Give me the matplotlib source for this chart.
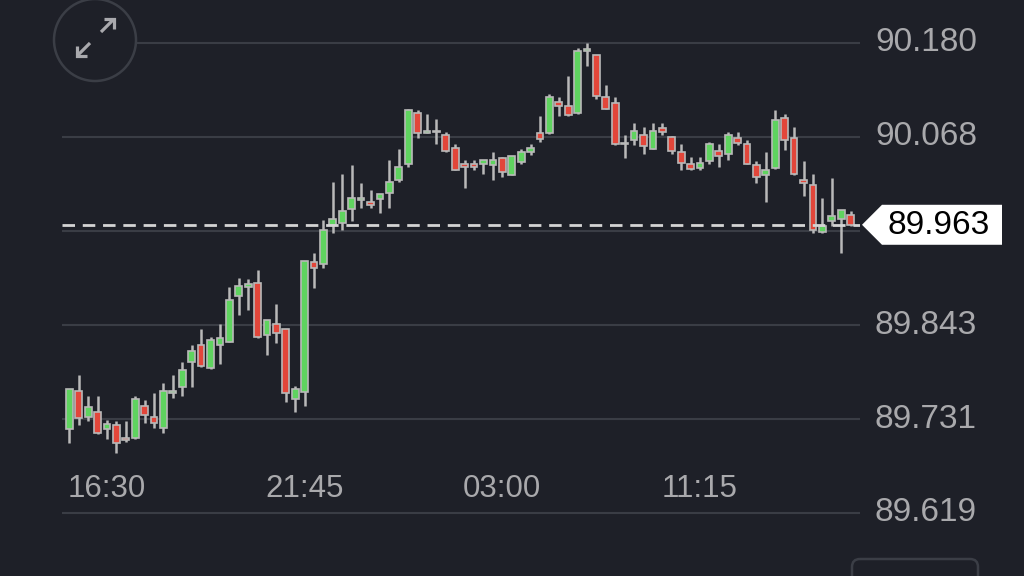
import numpy as np
import matplotlib
matplotlib.use("Agg")
import matplotlib.pyplot as plt
from matplotlib.patches import Polygon, Circle, FancyBboxPatch

# --- data (15 min candles) ---
opens = [89.719, 89.765, 89.733, 89.739, 89.719, 89.724, 89.709, 89.708, 89.747, 89.734,
         89.721, 89.762, 89.769, 89.799, 89.820, 89.792, 89.819, 89.823, 89.878, 89.889,
         89.894, 89.831, 89.845, 89.839, 89.755, 89.764, 89.918, 89.916, 89.963, 89.965,
         89.982, 89.992, 89.990, 89.994, 90.001, 90.016, 90.036, 90.097, 90.073, 90.074,
         90.070, 90.055, 90.036, 90.036, 90.036, 90.034, 90.043, 90.022, 90.038, 90.050,
         90.072, 90.072, 90.110, 90.105, 90.096, 90.171, 90.166, 90.115, 90.108, 90.059,
         90.064, 90.070, 90.054, 90.079, 90.068, 90.050, 90.035, 90.031, 90.039, 90.051,
         90.047, 90.067, 90.060, 90.034, 90.022, 90.031, 90.090, 90.067, 90.017, 90.011,
         89.954, 89.967, 89.970, 89.975]
highs = [89.767, 89.784, 89.759, 89.759, 89.730, 89.729, 89.729, 89.759, 89.754, 89.762,
         89.774, 89.784, 89.799, 89.820, 89.839, 89.829, 89.844, 89.889, 89.899, 89.898,
         89.909, 89.849, 89.869, 89.839, 89.770, 89.920, 89.929, 89.969, 90.014, 90.024,
         90.034, 90.013, 90.004, 90.000, 90.040, 90.054, 90.101, 90.100, 90.095, 90.089,
         90.074, 90.060, 90.040, 90.040, 90.040, 90.050, 90.044, 90.045, 90.054, 90.059,
         90.093, 90.119, 90.115, 90.140, 90.174, 90.180, 90.166, 90.130, 90.115, 90.070,
         90.084, 90.080, 90.084, 90.084, 90.069, 90.059, 90.044, 90.044, 90.062, 90.060,
         90.074, 90.074, 90.064, 90.039, 90.050, 90.100, 90.095, 90.080, 90.039, 90.024,
         89.995, 90.019, 89.981, 89.980]
lows = [89.703, 89.724, 89.729, 89.713, 89.707, 89.691, 89.704, 89.707, 89.726, 89.721,
        89.714, 89.756, 89.759, 89.769, 89.793, 89.791, 89.797, 89.823, 89.855, 89.861,
        89.828, 89.808, 89.822, 89.751, 89.740, 89.747, 89.888, 89.911, 89.953, 89.957,
        89.968, 89.983, 89.983, 89.977, 89.983, 90.014, 90.032, 90.067, 90.072, 90.060,
        90.050, 90.028, 90.007, 90.028, 90.024, 90.016, 90.020, 90.022, 90.036, 90.046,
        90.062, 90.071, 90.093, 90.093, 90.095, 90.153, 90.113, 90.101, 90.058, 90.043,
        90.058, 90.047, 90.054, 90.070, 90.047, 90.028, 90.028, 90.028, 90.036, 90.032,
        90.040, 90.058, 90.035, 90.013, 89.990, 90.030, 90.052, 90.022, 89.997, 89.953,
        89.953, 89.962, 89.929, 89.962]
closes = [89.767, 89.732, 89.745, 89.714, 89.725, 89.702, 89.706, 89.755, 89.736, 89.726,
          89.765, 89.765, 89.790, 89.812, 89.794, 89.825, 89.828, 89.873, 89.890, 89.892,
          89.829, 89.849, 89.834, 89.762, 89.767, 89.920, 89.911, 89.957, 89.970, 89.980,
          89.995, 89.995, 89.987, 90.000, 90.014, 90.032, 90.100, 90.072, 90.073, 90.074,
          90.051, 90.028, 90.032, 90.032, 90.040, 90.040, 90.026, 90.045, 90.050, 90.055,
          90.065, 90.116, 90.105, 90.094, 90.170, 90.171, 90.117, 90.101, 90.059, 90.059,
          90.075, 90.057, 90.075, 90.074, 90.051, 90.037, 90.029, 90.037, 90.060, 90.045,
          90.070, 90.061, 90.036, 90.020, 90.028, 90.088, 90.064, 90.024, 90.013, 89.957,
          89.961, 89.973, 89.981, 89.963]

grid_levels = [90.180, 90.068, 89.956, 89.843, 89.731, 89.619]
grid_labels = ["90.180", "90.068", "", "89.843", "89.731", "89.619"]
time_idx = [4, 25, 46, 67]
time_labels = ["16:30", "21:45", "03:00", "11:15"]
last_price = 89.963

BG = "#1e2028"
GRID = "#3a3d45"
TXT = "#a9a9ac"
UP = "#5fd35f"
DOWN = "#e2463a"
EDGE = "#b9b9b9"
ICON = "#a9a9ad"
FONT = "Liberation Sans"

fig = plt.figure(figsize=(10.24, 5.76), dpi=100, facecolor=BG)
ax = fig.add_axes([62 / 1024, 0, (860 - 62) / 1024, 1])
ax.set_facecolor(BG)
ax.set_xlim(-0.776, 84.0)
ax.set_ylim(89.5438, 90.2313)
ax.axis("off")

for lvl in grid_levels:
    ax.axhline(lvl, color=GRID, lw=1.5, zorder=1)

o = np.array(opens)
h = np.array(highs)
l = np.array(lows)
c = np.array(closes)
x = np.arange(len(o))
cols = [UP if cc >= oo else DOWN for oo, cc in zip(o, c)]

ax.vlines(x, l, h, color=EDGE, lw=1.8, zorder=2)
bottom = np.minimum(o, c)
height = np.maximum(np.abs(c - o), 0.0015)
ax.bar(x, height, bottom=bottom, width=0.72, color=cols, edgecolor=EDGE,
       linewidth=1.2, zorder=3)

# dashed last price line
ax.axhline(last_price, color="#d4d4d4", lw=2, ls=(0, (4.5, 2.8)), zorder=4)

# time labels
for i, lab in zip(time_idx, time_labels):
    ax.text(i, 89.648, lab, color=TXT, fontsize=22.5, family=FONT,
            ha="center", va="center")

# overlay in pixel coordinates
ov = fig.add_axes([0, 0, 1, 1])
ov.set_xlim(0, 1024)
ov.set_ylim(576, 0)
ov.axis("off")
ov.patch.set_alpha(0)


def ypx(p):
    return (90.2313 - p) / 0.0011936


for lvl, lab in zip(grid_levels, grid_labels):
    if lab:
        ov.text(875, ypx(lvl), lab, color=TXT, fontsize=24, family=FONT,
                ha="left", va="center")

# price tag
yp = ypx(last_price)
tag = Polygon([(862, yp), (882, yp - 20), (1002, yp - 20), (1002, yp + 20),
               (882, yp + 20)], closed=True, facecolor="white", edgecolor="none")
ov.add_patch(tag)
ov.text(939, yp + 1, "89.963", color="black", fontsize=24, family=FONT,
        ha="center", va="center")

# expand icon
ov.add_patch(Circle((95, 40), 41, facecolor=BG, edgecolor="#3b3e46", lw=1.8, zorder=5))
arrow_kw = dict(color=ICON, lw=2.3, solid_capstyle="butt", solid_joinstyle="miter", zorder=6)
ov.plot([101, 114], [32, 19], **arrow_kw)
ov.plot([104, 114, 114], [19, 19, 29], **arrow_kw)
ov.plot([90, 77], [43, 56], **arrow_kw)
ov.plot([77, 77, 87], [46, 56, 56], **arrow_kw)

# partial rounded box bottom right
ov.add_patch(FancyBboxPatch((852, 559), 126, 40, boxstyle="round,pad=0,rounding_size=8",
                            facecolor="none", edgecolor="#3b3e46", lw=1.8))

fig.savefig("out.png", dpi=100, facecolor=BG)
